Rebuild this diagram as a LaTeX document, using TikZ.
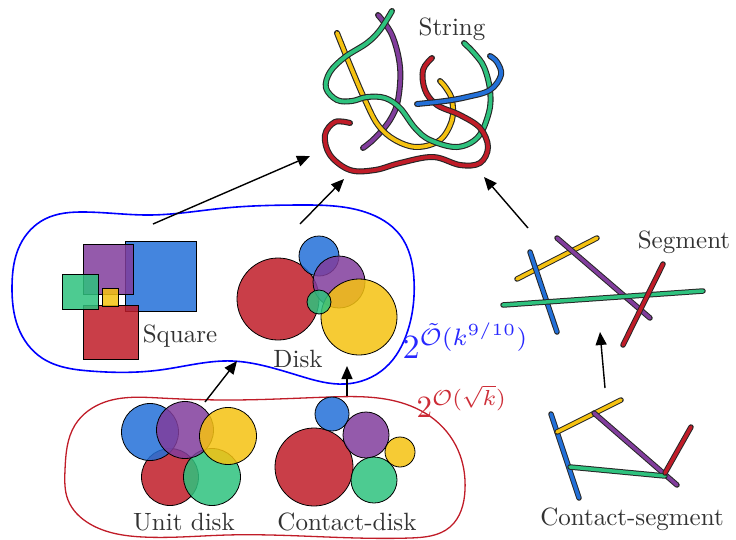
\documentclass[tikz,border=0pt]{standalone}
\usetikzlibrary{arrows.meta,hobby}
\definecolor{cred}{RGB}{192,28,40}
\definecolor{cblue}{RGB}{35,112,216}
\definecolor{cpurple}{RGB}{129,61,156}
\definecolor{cyellow}{RGB}{245,194,17}
\definecolor{cgreen}{RGB}{46,194,126}
\definecolor{labblue}{RGB}{40,40,255}
\definecolor{labred}{RGB}{205,45,55}
\definecolor{txt}{RGB}{50,50,50}
\newcommand\strand[2]{%
  \draw[line width=6pt,black!85,line cap=round] plot[smooth,tension=0.6] coordinates {#2};
  \draw[line width=3.8pt,#1,line cap=round] plot[smooth,tension=0.6] coordinates {#2};}
\newcommand\seg[3]{%
  \draw[line width=5.5pt,black!85,line cap=round] #2 -- #3;
  \draw[line width=3.5pt,#1,line cap=round] #2 -- #3;}
\tikzset{
  shape fill/.style={draw=black,line width=0.8pt,fill=#1,fill opacity=0.85},
  lbl/.style={text=txt,scale=2.5,anchor=base,inner sep=0pt},
  arr/.style={-{Triangle[length=13pt,width=11pt]},line width=1.4pt},
}
\begin{document}
\begin{tikzpicture}[x=1pt,y=-1pt,use Hobby shortcut]
\useasboundingbox (0,0) rectangle (736,539);

% ---- outlines of the two classes
\draw[blue,line width=1.6pt,closed=true]
  (12,287) .. (20,245) .. (45,219) .. (85,212) .. (150,215) .. (225,208)
  .. (300,205) .. (365,212) .. (400,235) .. (414,280) .. (408,330)
  .. (385,368) .. (345,384) .. (300,376) .. (265,366) .. (232,361)
  .. (160,370) .. (90,371) .. (42,358) .. (18,327);
\draw[cred,line width=1.3pt,closed=true]
  (65,470) .. (75,425) .. (105,402) .. (160,398) .. (230,400) .. (330,397)
  .. (395,401) .. (435,420) .. (460,455) .. (465,490) .. (450,527)
  .. (410,538) .. (327,537) .. (227,535) .. (143,537) .. (90,524) .. (68,500);

% ---- strings
\strand{cpurple}{(378,15) (392,35) (400,67) (398,100) (390,120) (375,138) (363,148)}
\strand{cyellow}{(337,33) (350,65) (365,100) (378,125) (395,140) (417,147) (440,140) (452,120) (452,100) (446,88) (440,81)}
\strand{cgreen}{(392,11) (380,30) (367,43) (345,57) (330,72) (326,88) (337,100) (352,101) (367,97) (385,98) (400,108) (415,128) (430,140) (457,147) (478,137) (489,112) (490,90) (484,67) (474,53) (464,43)}
\strand{cred}{(350,123) (335,122) (325,135) (330,155) (350,170) (375,170) (400,163) (433,157) (460,165) (480,163) (488,147) (480,128) (460,115) (437,105) (425,90) (423,70) (432,58)}
\strand{cblue}{(417,104) (445,101) (467,97) (490,90) (501,75) (497,62) (490,56)}
\node[lbl] (string) at (452,35) {String};

% ---- squares
\fill[shape fill=cblue] (125,241) rectangle (196,311);
\fill[shape fill=cpurple] (83,244) rectangle (133,294);
\fill[shape fill=cred] (83,305) rectangle (138,359);
\fill[shape fill=cgreen] (62,274) rectangle (98,309);
\fill[shape fill=cyellow] (102,288) rectangle (118,306);
\node[lbl] (square) at (180,342) {Square};

% ---- disks
\fill[shape fill=cred] (278,299) circle (41);
\fill[shape fill=cblue] (319,256) circle (20);
\fill[shape fill=cpurple] (339,282) circle (26);
\fill[shape fill=cyellow] (359,317) circle (38);
\fill[shape fill=cgreen] (319,302) circle (12);
\node[lbl] (disk) at (298,367) {Disk};

% ---- unit disks
\fill[shape fill=cred] (170,477) circle (28.5);
\fill[shape fill=cgreen] (212,477) circle (28.5);
\fill[shape fill=cblue] (150,432) circle (28.5);
\fill[shape fill=cpurple] (185,430) circle (28.5);
\fill[shape fill=cyellow] (228,436) circle (28.5);
\node[lbl] (unitdisk) at (184,530) {Unit disk};

% ---- contact disks
\fill[shape fill=cred] (314,467) circle (39);
\fill[shape fill=cblue] (332,414) circle (17);
\fill[shape fill=cpurple] (366,435) circle (23);
\fill[shape fill=cyellow] (400,452) circle (15);
\fill[shape fill=cgreen] (374,480) circle (23);
\node[lbl] (contactdisk) at (347,530) {Contact-disk};

% ---- segments
\seg{cyellow}{(517,279)}{(597,238)}
\seg{cblue}{(530,252)}{(557,332)}
\seg{cpurple}{(557,238)}{(650,318)}
\seg{cgreen}{(503,305)}{(703,291)}
\seg{cred}{(663,264)}{(623,345)}
\node[lbl] (segment) at (684,248) {Segment};

% ---- contact segments
\seg{cblue}{(551,414)}{(579,498)}
\seg{cyellow}{(557,432)}{(621,400)}
\seg{cpurple}{(594,413)}{(677,485)}
\seg{cgreen}{(570,467)}{(665,476)}
\seg{cred}{(665,473)}{(691,427)}
\node[lbl] (contactseg) at (632,525) {Contact-segment};

% ---- complexity labels
\node[anchor=base west,inner sep=0pt,text=labblue,scale=3.4] (ub) at (402,358) {$2^{\tilde{\mathcal{O}}(k^{9/10})}$};
\node[anchor=base west,inner sep=0pt,text=labred,scale=3.1] (lb) at (416,417) {$2^{\mathcal{O}(\sqrt{k})}$};

% ---- reductions
\coordinate (a1s) at (153,224); \coordinate (a1e) at (310,156);
\coordinate (a2s) at (300,224); \coordinate (a2e) at (344,179);
\coordinate (a3s) at (528,228); \coordinate (a3e) at (484,177);
\coordinate (a4s) at (605,388); \coordinate (a4e) at (600,332);
\coordinate (a5s) at (205,402); \coordinate (a5e) at (237,361);
\coordinate (a6s) at (347,396); \coordinate (a6e) at (347,366);
\foreach \i in {1,...,6} \draw[arr] (a\i s) -- (a\i e);
\end{tikzpicture}
\end{document}
